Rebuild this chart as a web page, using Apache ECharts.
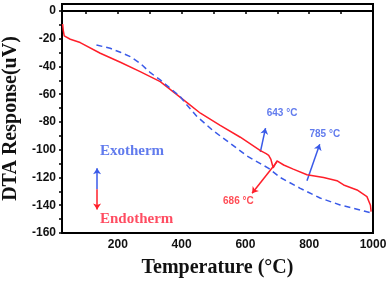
<!DOCTYPE html>
<html><head><meta charset="utf-8">
<script src="https://cdn.jsdelivr.net/npm/echarts@6/dist/echarts.min.js"></script>
<style>html,body{margin:0;padding:0;background:#fff}#c{width:392px;height:281px}</style>
</head><body><div id="c"></div>
<script>
// Data
var redT = [27, 29, 32, 51, 82, 145, 208, 270, 333, 396, 422, 459, 521, 584, 647, 665, 673, 680, 687, 693, 699, 720, 750, 793, 845, 887, 908, 950, 981, 992, 994];
var redV = [-9.4, -14, -18, -20.4, -22.8, -30.5, -37, -43.7, -50.9, -62.3, -67, -73.7, -82.5, -91, -100.7, -102.8, -104, -107, -113, -110.5, -108, -111, -114, -118, -120, -122.3, -125.4, -129, -133.8, -140, -144.6];
var blueT = [133, 176, 208, 239, 270, 302, 333, 364, 396, 412, 448, 500, 553, 605, 647, 673, 709, 772, 834, 897, 960, 992];
var blueV = [-24.5, -26.9, -29.8, -32.9, -37.7, -44.5, -49.7, -55.7, -61.8, -66.5, -76, -86.5, -95.5, -104.5, -110, -113.4, -120, -127.8, -134.8, -139.8, -143.4, -145.4];
var xTicks = [100, 200, 300, 400, 500, 600, 700, 800, 900, 1000];
var xLabels = [200, 400, 600, 800, 1000];
var yTicks = [-160, -150, -140, -130, -120, -110, -100, -90, -80, -70, -60, -50, -40, -30, -20, -10, 0];
var yLabels = [-160, -140, -120, -100, -80, -60, -40, -20, 0];
// annotations: [x, y, text]
var blueNotes = [[715, -73.5, '643 °C'], [849, -88.6, '785 °C']];
var redNotes = [[578, -137.4, '686 °C']];
var blueArrows = [[[647, -101.5], [663, -84.5]], [[793, -122.3], [833, -96]], [[135, -128.5], [135, -113.4]]];
var redArrows = [[[699, -108.6], [621, -131.4]], [[135, -128.5], [135, -143]]];
var sideNotes = [[144, -101, 'Exotherm', '#3a5ae8'], [144, -150, 'Endotherm', '#ff1f3a']];

var RED = '#ff1f2a', BLUE = '#3a5ae8';
function zip(a, b) { return a.map(function (v, i) { return [v, b[i]]; }); }

var chart = echarts.init(document.getElementById('c'));
chart.setOption({
  animation: false,
  grid: { left: 62, right: 19, top: 4, bottom: 48, outerBoundsMode: 'none', containLabel: false,
    show: true, borderColor: '#000', borderWidth: 2, backgroundColor: 'transparent' },
  xAxis: {
    type: 'value', min: 25, max: 1000,
    name: 'Temperature (°C)', nameLocation: 'middle', nameGap: 25,
    nameTextStyle: { fontFamily: 'Liberation Serif', fontWeight: 'bold', fontSize: 20, color: '#111' },
    axisLine: { lineStyle: { color: '#000', width: 2 } },
    axisTick: { show: true, length: 3, inside: false, customValues: xTicks, lineStyle: { color: '#000', width: 1.5 } },
    axisLabel: { customValues: xLabels, margin: 6, formatter: function (v) { return String(v); },
      fontFamily: 'Liberation Sans', fontWeight: 'bold', fontSize: 12, color: '#111' },
    splitLine: { show: false }
  },
  yAxis: {
    type: 'value', min: -160, max: 5,
    name: 'DTA Response(uV)', nameLocation: 'middle', nameGap: 40,
    nameTextStyle: { fontFamily: 'Liberation Serif', fontWeight: 'bold', fontSize: 20, color: '#111' },
    axisLine: { show: true, lineStyle: { color: '#000', width: 2 } },
    axisTick: { show: true, length: 3, inside: false, customValues: yTicks, lineStyle: { color: '#000', width: 1.5 } },
    axisLabel: { customValues: yLabels, margin: 6, formatter: function (v) { return String(v); },
      fontFamily: 'Liberation Sans', fontWeight: 'bold', fontSize: 12, color: '#111' },
    splitLine: { show: false }
  },
  series: [
    { type: 'line', data: zip(redT, redV), showSymbol: false, symbol: 'none', smooth: false,
      lineStyle: { color: RED, width: 1.5 } },
    { type: 'line', data: zip(blueT, blueV), showSymbol: false, symbol: 'none', smooth: false,
      lineStyle: { color: BLUE, width: 1.5, type: [6, 4] } },
    { type: 'lines', coordinateSystem: 'cartesian2d', data: blueArrows.map(function (c) { return { coords: c }; }),
      symbol: ['none', 'arrow'], symbolSize: 6, lineStyle: { color: BLUE, width: 1.5, opacity: 1, curveness: 0 } },
    { type: 'lines', coordinateSystem: 'cartesian2d', data: redArrows.map(function (c) { return { coords: c }; }),
      symbol: ['none', 'arrow'], symbolSize: 6, lineStyle: { color: RED, width: 1.5, opacity: 1, curveness: 0 } },
    { type: 'scatter', symbolSize: 0, data: blueNotes.map(function (n) { return { value: [n[0], n[1]], name: n[2] }; }),
      label: { show: true, position: 'inside', formatter: '{b}', color: BLUE, fontFamily: 'Liberation Sans', fontWeight: 'bold', fontSize: 10 } },
    { type: 'scatter', symbolSize: 0, data: redNotes.map(function (n) { return { value: [n[0], n[1]], name: n[2] }; }),
      label: { show: true, position: 'inside', formatter: '{b}', color: RED, fontFamily: 'Liberation Sans', fontWeight: 'bold', fontSize: 10 } },
    { type: 'scatter', symbolSize: 0, data: sideNotes.map(function (n) { return { value: [n[0], n[1]], name: n[2], label: { color: n[3] } }; }),
      label: { show: true, position: 'right', distance: 0, formatter: '{b}', fontFamily: 'Liberation Serif', fontWeight: 'bold', fontSize: 15 } }
  ]
});
</script></body></html>
